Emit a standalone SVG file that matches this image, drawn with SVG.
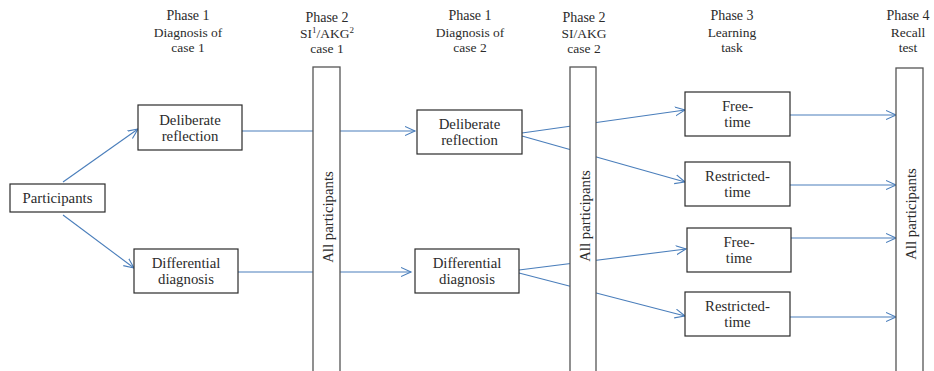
<svg xmlns="http://www.w3.org/2000/svg" width="934" height="371" viewBox="0 0 934 371">
<style>
text{font-family:"Liberation Serif","Times New Roman",serif;fill:#2b2b2b;text-anchor:middle}
.h{font-size:14px}
.hs{font-size:13.5px}
.t{font-size:14.8px}
.box{fill:#fff;stroke:#2b2b2b;stroke-width:1.2}
.bar{fill:#fff;stroke:#555;stroke-width:1.3}
.c{stroke:#4a7ebb;stroke-width:1.1;fill:none;marker-end:url(#ah)}
</style>
<defs>
<marker id="ah" markerUnits="userSpaceOnUse" markerWidth="12" markerHeight="12" refX="10" refY="5" orient="auto" viewBox="0 0 12 10">
<path d="M0,0.5 L10,5 L0,9.5" fill="none" stroke="#4a7ebb" stroke-width="1.1"/>
</marker>
</defs>
<rect width="934" height="371" fill="#fff"/>
<g id="headers">
<text class="h" x="188" y="20">Phase 1</text>
<text class="hs" x="188" y="37">Diagnosis of</text>
<text class="hs" x="188" y="52">case 1</text>
<text class="h" x="327" y="22">Phase 2</text>
<text class="hs" x="327" y="38">SI<tspan font-size="9" dy="-5">1</tspan><tspan dy="5">/AKG</tspan><tspan font-size="9" dy="-5">2</tspan></text>
<text class="hs" x="327" y="53">case 1</text>
<text class="h" x="470" y="20">Phase 1</text>
<text class="hs" x="470" y="37">Diagnosis of</text>
<text class="hs" x="470" y="52">case 2</text>
<text class="h" x="584" y="22">Phase 2</text>
<text class="hs" x="584" y="38">SI/AKG</text>
<text class="hs" x="584" y="53">case 2</text>
<text class="h" x="732" y="20">Phase 3</text>
<text class="hs" x="732" y="37">Learning</text>
<text class="hs" x="732" y="52">task</text>
<text class="h" x="908" y="20">Phase 4</text>
<text class="hs" x="908" y="37">Recall</text>
<text class="hs" x="908" y="52">test</text>
</g>
<g id="connectors">
<line class="c" x1="63" y1="182" x2="138" y2="129"/>
<line class="c" x1="63" y1="215" x2="134" y2="268"/>
<line class="c" x1="242" y1="131" x2="415" y2="131"/>
<line class="c" x1="238" y1="272" x2="411" y2="272"/>
<line class="c" x1="522" y1="133" x2="685" y2="110"/>
<line class="c" x1="522" y1="136" x2="685" y2="182"/>
<line class="c" x1="519" y1="270" x2="686" y2="249"/>
<line class="c" x1="519" y1="273" x2="685" y2="316"/>
<line class="c" x1="790" y1="115" x2="896" y2="115"/>
<line class="c" x1="790" y1="185" x2="896" y2="185"/>
<line class="c" x1="791" y1="238" x2="896" y2="238"/>
<line class="c" x1="790" y1="317" x2="896" y2="317"/>
</g>
<g id="participants">
<rect class="box" x="10" y="184" width="95" height="28"/>
<text class="t" x="57.5" y="203">Participants</text>
</g>
<g id="dr1">
<rect class="box" x="138" y="105" width="104" height="45"/>
<text class="t" x="190" y="125">Deliberate</text>
<text class="t" x="190" y="141">reflection</text>
</g>
<g id="dd1">
<rect class="box" x="134" y="249" width="104" height="44"/>
<text class="t" x="186" y="268">Differential</text>
<text class="t" x="186" y="284">diagnosis</text>
</g>
<g id="bar1">
<rect class="bar" x="313" y="67" width="27" height="310"/>
<text class="t" transform="translate(332.5,217) rotate(-90)">All participants</text>
</g>
<g id="dr2">
<rect class="box" x="417" y="110" width="105" height="44"/>
<text class="t" x="469.5" y="129">Deliberate</text>
<text class="t" x="469.5" y="145">reflection</text>
</g>
<g id="dd2">
<rect class="box" x="415" y="249" width="104" height="44"/>
<text class="t" x="467" y="268">Differential</text>
<text class="t" x="467" y="284">diagnosis</text>
</g>
<g id="bar2">
<rect class="bar" x="570" y="67" width="26" height="310"/>
<text class="t" transform="translate(589.5,216) rotate(-90)">All participants</text>
</g>
<g id="free1">
<rect class="box" x="685" y="92" width="105" height="44"/>
<text class="t" x="737.5" y="111">Free-</text>
<text class="t" x="737.5" y="127">time</text>
</g>
<g id="restricted1">
<rect class="box" x="685" y="162" width="105" height="44"/>
<text class="t" x="737.5" y="181">Restricted-</text>
<text class="t" x="737.5" y="197">time</text>
</g>
<g id="free2">
<rect class="box" x="687" y="228" width="104" height="44"/>
<text class="t" x="739" y="247">Free-</text>
<text class="t" x="739" y="263">time</text>
</g>
<g id="restricted2">
<rect class="box" x="685" y="292" width="105" height="44"/>
<text class="t" x="737.5" y="311">Restricted-</text>
<text class="t" x="737.5" y="327">time</text>
</g>
<g id="bar4">
<rect class="bar" x="896" y="68" width="27" height="310"/>
<text class="t" transform="translate(915.5,214) rotate(-90)">All participants</text>
</g>
</svg>
